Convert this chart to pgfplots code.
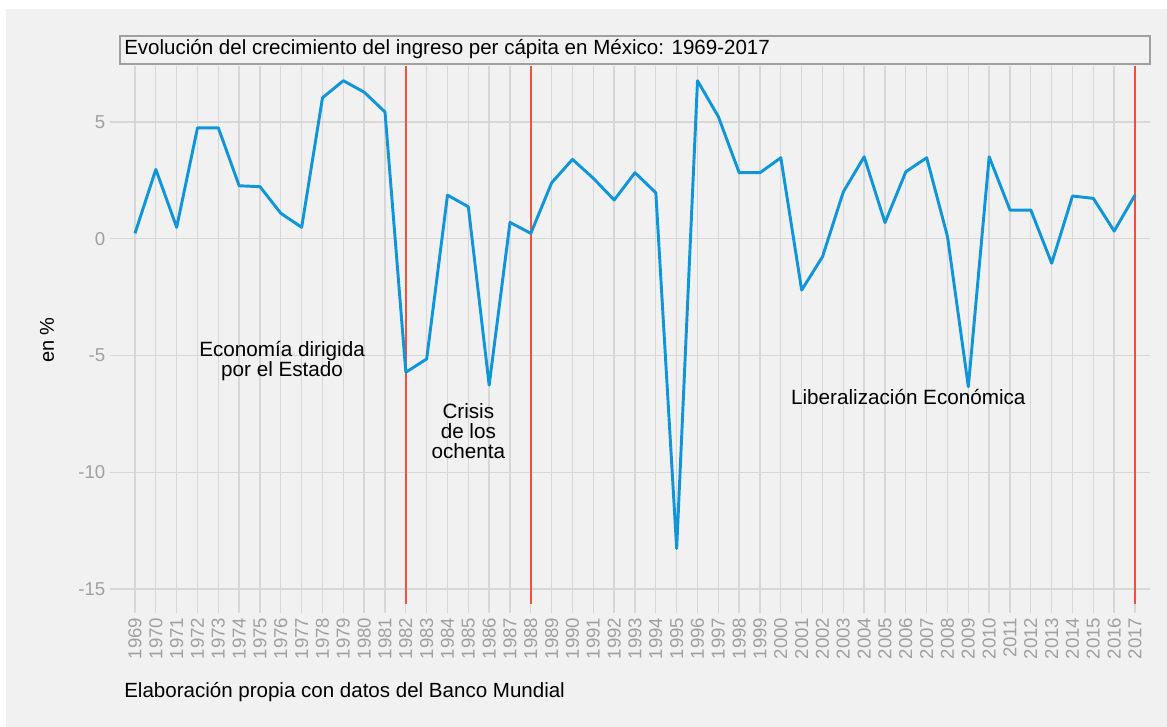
\documentclass[border=0pt]{standalone}
\usepackage{fontspec}
\setmainfont{Liberation Sans}
\usepackage{pgfplots}
\pgfplotsset{compat=1.18}
\definecolor{bg}{HTML}{F1F1F1}
\definecolor{gridc}{HTML}{D7D7D7}
\definecolor{lineblue}{HTML}{0F95DA}
\definecolor{redl}{HTML}{F2503A}
\definecolor{tickc}{HTML}{A0A0A0}
\begin{document}
\begin{tikzpicture}[x=0.75pt,y=0.75pt]
\fill[white] (0,0) rectangle (1167,727);
\fill[bg] (6,0) rectangle (1167,718);
\useasboundingbox (0,0) rectangle (1167,727);
\begin{axis}[
  at={(82.5pt,85.5pt)}, anchor=south west,
  scale only axis, width=780pt, height=410.25pt,
  xmin=1967.8, xmax=2017.72, ymin=-16.03, ymax=7.4,
  axis line style={draw=none},
  major tick length=0pt,
  xtick={1969,...,2017},
  ytick={-15,-10,-5,0,5},
  yticklabels={-15,-10,-5,0,5},
  grid=major, major grid style={gridc, line width=1pt},
  /pgf/number format/.cd, 1000 sep={}, assume math mode=true, /pgfplots/.cd,
  tick label style={font=\fontsize{14}{16}\selectfont, text=tickc},
  xticklabel style={rotate=90, anchor=east},
  clip=false,
]
\addplot[redl, line width=1pt] coordinates {(1982,7.4) (1982,-15.64)};
\addplot[redl, line width=1pt] coordinates {(1988,7.4) (1988,-15.64)};
\addplot[redl, line width=1pt] coordinates {(2017,7.4) (2017,-15.64)};
\addplot[lineblue, line width=2.2pt, line join=round] table {
x y
1969 0.23
1970 2.97
1971 0.49
1972 4.75
1973 4.75
1974 2.27
1975 2.23
1976 1.09
1977 0.49
1978 6.04
1979 6.77
1980 6.28
1981 5.43
1982 -5.72
1983 -5.15
1984 1.87
1985 1.37
1986 -6.27
1987 0.70
1988 0.23
1989 2.40
1990 3.40
1991 2.59
1992 1.66
1993 2.83
1994 1.97
1995 -13.27
1996 6.77
1997 5.23
1998 2.83
1999 2.83
2000 3.47
2001 -2.20
2002 -0.77
2003 2.01
2004 3.51
2005 0.69
2006 2.87
2007 3.47
2008 0.09
2009 -6.34
2010 3.51
2011 1.23
2012 1.23
2013 -1.05
2014 1.83
2015 1.73
2016 0.33
2017 1.87
};
\node[align=center, font=\fontsize{15.5}{15}\selectfont] at (axis cs:1976.06,-5.24) {Economía dirigida\\por el Estado};
\node[align=center, font=\fontsize{15.5}{15}\selectfont] at (axis cs:1985.0,-8.24) {Crisis\\de los\\ochenta};
\node[align=center, font=\fontsize{15.5}{15}\selectfont] at (axis cs:2006.12,-6.78) {Liberalización Económica};
\end{axis}
\draw[tickc, fill=bg, line width=0.8pt] (120,663) rectangle (1150,691);
\node[anchor=base west, inner sep=0pt, font=\fontsize{15.4}{16}\selectfont] at (124,672) {Evolución del crecimiento del ingreso per cápita en México: 1969-2017};
\node[anchor=base west, inner sep=0pt, font=\fontsize{15.4}{16}\selectfont] at (124,29) {Elaboración propia con datos del Banco Mundial};
\node[rotate=90, font=\fontsize{15}{16}\selectfont] at (47,387) {en \%};
\end{tikzpicture}
\end{document}
